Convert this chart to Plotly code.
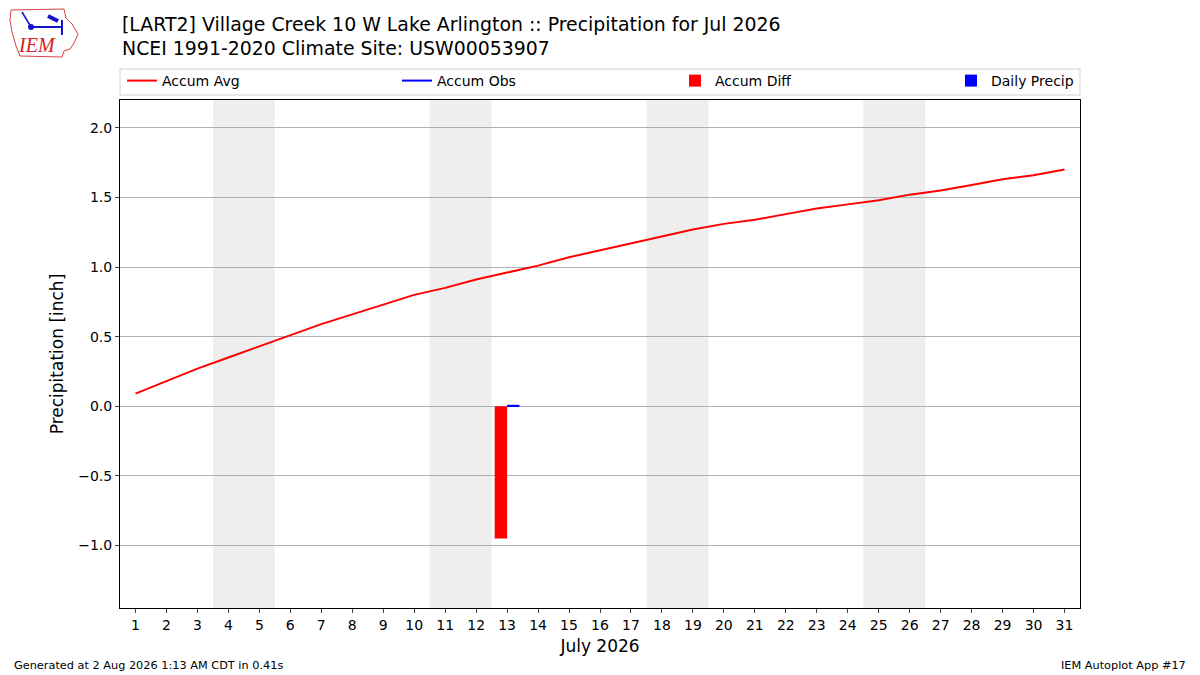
import plotly.graph_objects as go

days = list(range(1, 32))
accum_avg = [0.09, 0.18, 0.27, 0.35, 0.43, 0.51, 0.59, 0.66, 0.73, 0.80,
             0.85, 0.91, 0.96, 1.01, 1.07, 1.12, 1.17, 1.22, 1.27, 1.31,
             1.34, 1.38, 1.42, 1.45, 1.48, 1.52, 1.55, 1.59, 1.63, 1.66, 1.70]
obs_days = [13]
accum_obs = [0.01]
accum_diff = [-0.95]
daily_precip = [0.01]
weekends = [(4, 5), (11, 12), (18, 19), (25, 26)]
ytick_vals = [-1.0, -0.5, 0.0, 0.5, 1.0, 1.5, 2.0]

title1 = "[LART2] Village Creek 10 W Lake Arlington :: Precipitation for Jul 2026"
title2 = "NCEI 1991-2020 Climate Site: USW00053907"

FONT = "DejaVu Sans"
OFF = 8  # the page draws the figure 8px in from the top-left corner
W, H = 1200 - OFF, 675 - OFF
# plot area in screen pixels
L, R, T, B = 120, 1080, 100, 608


def px_y(y):
    return (B - y) / (B - T)


def px_x(x):
    return (x - L) / (R - L)


fig = go.Figure()

fig.add_trace(go.Scatter(x=days, y=accum_avg, name="Accum Avg", mode="lines",
                         line=dict(color="red", width=2), legend="legend"))
fig.add_trace(go.Scatter(x=obs_days, y=accum_obs, name="Accum Obs", mode="lines",
                         line=dict(color="blue", width=2), legend="legend2"))
fig.add_trace(go.Bar(x=obs_days, y=accum_diff, name="Accum Diff", width=0.4,
                     offset=-0.4, marker=dict(color="red", line=dict(width=0)),
                     legend="legend3"))
fig.add_trace(go.Bar(x=obs_days, y=daily_precip, name="Daily Precip", width=0.4,
                     offset=0, marker=dict(color="blue", line=dict(width=0)),
                     legend="legend4"))

# weekend shading
for a, b in weekends:
    fig.add_shape(type="rect", xref="x", yref="paper", x0=a - 0.5, x1=b + 0.5,
                  y0=0, y1=1, fillcolor="#eeeeee", line=dict(width=0), layer="below")

# legend frame
fig.add_shape(type="rect", xref="paper", yref="paper", x0=0, x1=1,
              y0=px_y(95), y1=px_y(69), line=dict(color="#d0d0d0", width=1),
              fillcolor="rgba(0,0,0,0)")

# rough IEM logo
pts = [(11, 10), (64, 9), (66, 18), (72, 24), (78, 34), (74, 43), (70, 49),
       (64, 51), (62, 57), (20, 56), (16, 46), (12, 32), (10, 20)]
path = "M " + " L ".join(f"{px_x(x):.4f},{px_y(y):.4f}" for x, y in pts) + " Z"
fig.add_shape(type="path", xref="paper", yref="paper", path=path,
              line=dict(color="#d84040", width=1))
logo_blue = "#1515c8"
fig.add_shape(type="line", xref="paper", yref="paper", x0=px_x(31), x1=px_x(62),
              y0=px_y(27), y1=px_y(27), line=dict(color=logo_blue, width=2))
fig.add_shape(type="circle", xref="paper", yref="paper", x0=px_x(28), x1=px_x(34),
              y0=px_y(30), y1=px_y(24), fillcolor=logo_blue, line=dict(width=0))
fig.add_shape(type="line", xref="paper", yref="paper", x0=px_x(22), x1=px_x(31),
              y0=px_y(12), y1=px_y(27), line=dict(color=logo_blue, width=1.5))
fig.add_shape(type="line", xref="paper", yref="paper", x0=px_x(48), x1=px_x(58),
              y0=px_y(16), y1=px_y(21), line=dict(color=logo_blue, width=4))
fig.add_shape(type="line", xref="paper", yref="paper", x0=px_x(62), x1=px_x(62),
              y0=px_y(20), y1=px_y(35), line=dict(color=logo_blue, width=2))

annotations = [
    dict(text=title1, x=0, y=px_y(24), xref="paper", yref="paper",
         xanchor="left", yanchor="middle", showarrow=False,
         font=dict(family=FONT, size=18.9, color="black")),
    dict(text=title2, x=0, y=px_y(48), xref="paper", yref="paper",
         xanchor="left", yanchor="middle", showarrow=False,
         font=dict(family=FONT, size=18.9, color="black")),
    dict(text="<i>IEM</i>", x=px_x(37), y=px_y(45), xref="paper", yref="paper",
         xanchor="center", yanchor="middle", showarrow=False,
         font=dict(family="Liberation Serif", size=20, color="#d82020")),
    dict(text="Generated at 2 Aug 2026 1:13 AM CDT in 0.41s", x=px_x(12), y=px_y(665),
         xref="paper", yref="paper", xanchor="left", yanchor="middle",
         showarrow=False, font=dict(family=FONT, size=11.3, color="black")),
    dict(text="IEM Autoplot App #17", x=px_x(1188), y=px_y(665),
         xref="paper", yref="paper", xanchor="right", yanchor="middle",
         showarrow=False, font=dict(family=FONT, size=11.3, color="black")),
]


def legend_at(xpix):
    return dict(orientation="h", x=px_x(xpix), xanchor="left", y=px_y(81),
                yanchor="middle", bgcolor="rgba(0,0,0,0)",
                font=dict(family=FONT, size=14, color="black"))


fig.update_layout(
    width=W, height=H,
    margin=dict(l=L - OFF, r=1200 - R, t=T - OFF, b=675 - B, pad=0),
    paper_bgcolor="white", plot_bgcolor="white",
    font=dict(family=FONT, size=14, color="black"),
    barmode="overlay",
    showlegend=True,
    legend=legend_at(122),
    legend2=legend_at(397),
    legend3=legend_at(675),
    legend4=legend_at(951),
    annotations=annotations,
    xaxis=dict(range=[0.5, 31.5], tickmode="array", tickvals=days,
               ticktext=[str(d) for d in days], ticks="outside", ticklen=4,
               showgrid=False, zeroline=False, showline=True, linecolor="black",
               linewidth=1, mirror=True,
               title=dict(text="July 2026", font=dict(family=FONT, size=17),
                          standoff=8)),
    yaxis=dict(range=[-1.45, 2.2], tickmode="array",
               tickvals=ytick_vals,
               ticktext=[f"{v:.1f}".replace("-", "\u2212") for v in ytick_vals],
               ticks="outside", ticklen=4, showgrid=True, gridcolor="#b0b0b0",
               gridwidth=1, zeroline=False, showline=True, linecolor="black",
               linewidth=1, mirror=True,
               title=dict(text="Precipitation [inch]", font=dict(family=FONT, size=17),
                          standoff=10)),
)

fig.write_html("out.html")
